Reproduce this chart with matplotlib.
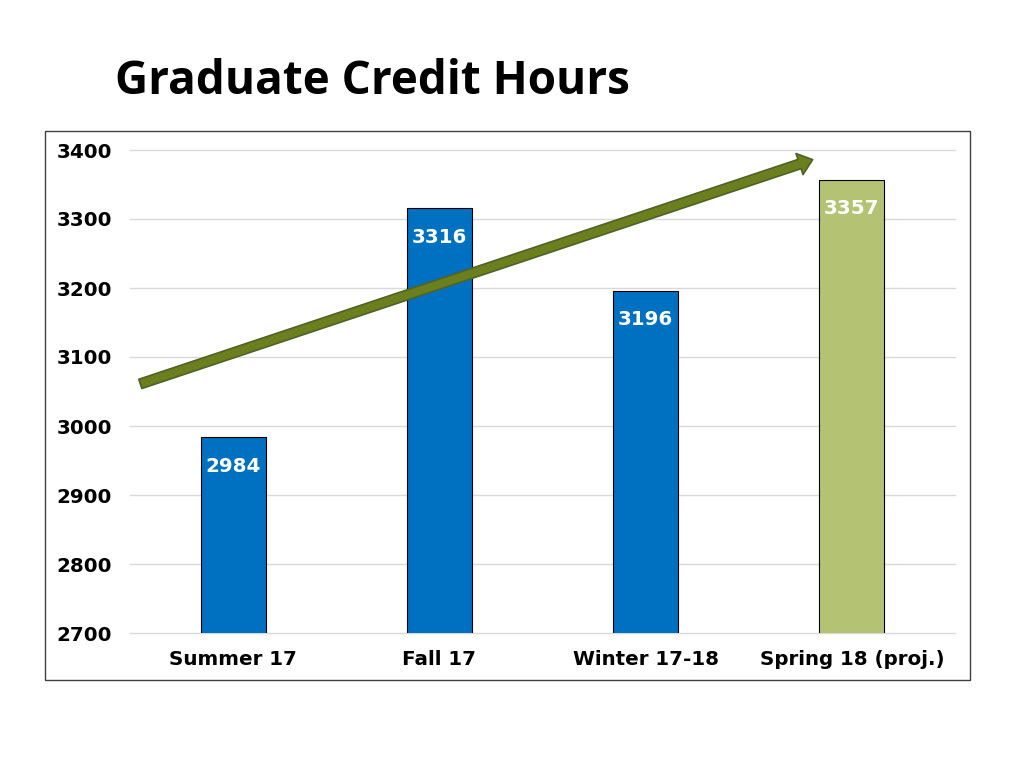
import matplotlib
matplotlib.use("Agg")
import matplotlib.pyplot as plt
from matplotlib.patches import Rectangle

categories = ["Summer 17", "Fall 17", "Winter 17-18", "Spring 18 (proj.)"]
credit_hours = [2984, 3316, 3196, 3357]
bar_colors = ["#0070C0", "#0070C0", "#0070C0", "#B3C373"]
y_ticks = [2700, 2800, 2900, 3000, 3100, 3200, 3300, 3400]
trend_start = (-0.45, 3061)
trend_end = (2.81, 3386)

fig = plt.figure(figsize=(10.24, 7.68), dpi=100)
fig.patch.set_facecolor("white")

# outer chart frame
fig.patches.append(Rectangle((45 / 1024, 1 - 680 / 768), 925 / 1024, 549 / 768,
                             transform=fig.transFigure, fill=False,
                             edgecolor="#404040", linewidth=1.0))

fig.text(115 / 1024, 1 - 82 / 768, "Graduate Credit Hours", fontsize=33,
         fontweight="bold", family=["Open Sans", "DejaVu Sans"],
         ha="left", va="center", color="black")

ax = fig.add_axes([130 / 1024, 1 - 633 / 768, 825 / 1024, 483 / 768])
x = list(range(len(categories)))
bars = ax.bar(x, credit_hours, width=0.316, color=bar_colors,
              edgecolor="black", linewidth=0.8, zorder=2)

ax.set_xlim(-0.5, len(categories) - 0.5)
ax.set_ylim(y_ticks[0], y_ticks[-1])
ax.set_yticks(y_ticks)
ax.set_yticklabels([str(t) for t in y_ticks])
ax.set_xticks(x)
ax.set_xticklabels(categories)
for s in ax.spines.values():
    s.set_visible(False)
ax.grid(axis="y", color="#D9D9D9", linewidth=1.0, zorder=0)
for gl in ax.get_ygridlines():
    gl.set_clip_on(False)
ax.tick_params(axis="both", length=0, labelsize=14.3)
ax.tick_params(axis="y", pad=13)
ax.tick_params(axis="x", pad=12.5)
for lbl in ax.get_yticklabels() + ax.get_xticklabels():
    lbl.set_fontweight("bold")
    lbl.set_family("DejaVu Sans")

for xi, v in zip(x, credit_hours):
    ax.annotate(str(v), (xi, v), xytext=(0, -21), textcoords="offset points",
                ha="center", va="center", color="white", fontsize=14.3,
                fontweight="bold", family="DejaVu Sans", zorder=4)

ax.annotate("", xy=trend_end, xytext=trend_start,
            arrowprops=dict(arrowstyle="simple,head_length=1.0,head_width=1.6,tail_width=0.7",
                            facecolor="#6B7F1E", edgecolor="#4F6228",
                            linewidth=1.2, mutation_scale=10, shrinkA=0, shrinkB=0),
            zorder=5)

fig.savefig("out.png", dpi=100, facecolor="white")
